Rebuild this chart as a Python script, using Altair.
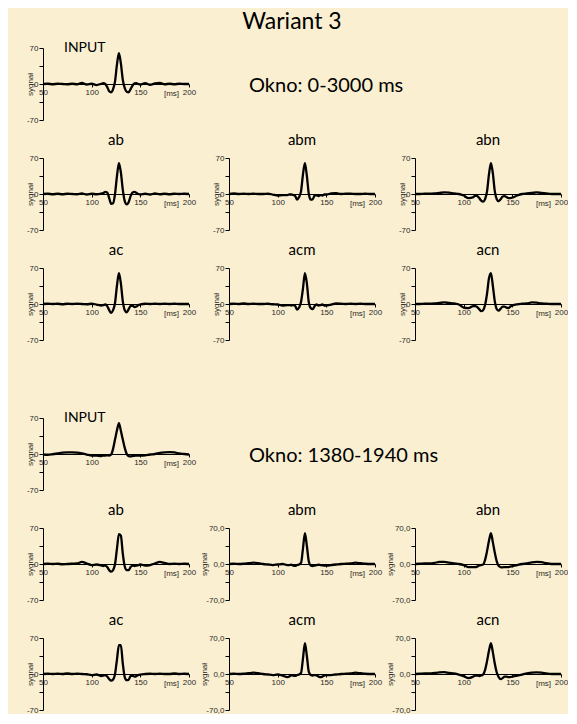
import altair as alt
import pandas as pd

# ---------------- data ----------------
t_ms = [50, 55, 60, 65, 70, 75, 80, 85, 90, 95, 100, 105, 110,
        112, 114, 116, 118, 120, 122, 124, 126, 128, 130, 132, 134, 136, 138, 140, 142, 144, 146, 148,
        150, 155, 160, 165, 170, 175, 180, 185, 190, 195, 200]

# Okno: 0-3000 ms
in_full = [0, 0.5, -0.5, 0.5, 0, -0.5, 0.5, -0.5, 2, -1, 0.5, -2, 0.5,
           1.5, 0, -6, -14, -16, -10, 5, 38, 60, 40, 8, -8, -15, -16, -10, -3, 1, 1.5, 0,
           -1, 1.5, -1.5, 1, 2, -0.5, 0.5, -0.5, 0.5, 0, 0]
ab_full = [0, 0.5, -0.5, 0.5, -0.5, 0.5, 0, -0.5, 1, -1, 0.5, -0.5, 1,
           2, 4, 3, -8, -19, -18, 0, 35, 60, 42, 8, -14, -20, -16, -4, 3, 4, 2, 0,
           -1, 0.5, -1, 1, -0.5, 0.5, -0.5, 0.5, 0, 0.5, 0]
abm_full = [0, 1, 0, 0.5, 0, 0.5, 0, 0, 0.5, -1, -3, -2, -2,
            -1, -1, -2, -4, -11, -6, 5, 38, 60, 35, 0, -11, -10, -3, -2, -4, -2, -3, -1,
            -1, 1, 1.5, 0, 0.5, 0.5, 0, 0, 0.5, 0, 0]
abn_full = [0, 0, 0.5, 0.5, 1, 2, 3, 2.5, 1, 0, -3, -8, -6,
            -3, -4, -8, -13, -15, -10, 5, 38, 60, 40, 5, -10, -14, -10, -5, -4, -6, -8, -8,
            -7, -3, 0, 1, 2, 3, 2, 1, 0, 0, 0]
ac_full = [0, 0.5, 0, 0.5, -0.5, 0.5, 0, 0.5, 0, -0.5, 0.5, -1, -3,
           -2, -1, -4, -12, -17, -12, 2, 36, 60, 40, 5, -12, -16, -10, -4, -3, -6, -5, -2,
           -1, 0.5, 0, 0.5, 0, 0.5, 0, 0.5, 0, 0, 0]
acm_full = [0, 0.5, 0, 1, 0, 0.5, 0, 0, 0.5, -0.5, -1, -3, -2,
            -2, -3, -2, -4, -11, -7, 4, 30, 60, 40, 3, -8, -10, -4, -1, -3, -2, -1, -3,
            -3, -1, 1, 0.5, 0, 0.5, 0, 0.5, 0, 0, 0]
acn_full = [0, 0, 0.5, 0.5, 1, 2, 3, 2, 1, -1, -7, -8, -4,
            -4, -6, -10, -14, -12, -2, 20, 50, 60, 35, 5, -10, -13, -9, -5, -5, -7, -8, -5,
            -3, -0.5, 0.5, 1, 3, 2.5, 1, 0.5, 0, 0, 0]

# Okno: 1380-1940 ms
in_win = [-1, -1.5, -0.5, 1, 2.5, 3, 3, 2.5, 1, -1, -3, -3, -4,
          -3, -3, -2.5, -3, -1, 10, 28, 46, 60, 45, 28, 12, 0, -4, -4.5, -4, -3.5, -3, -3,
          -3, -2.5, -1, 0, 2, 3, 3.5, 3, 1, 0, -1]
ab_win = [0, 0.5, 0, 0.5, -0.5, 0, 0.5, 1, 4, 1, -2, -1, -3,
          -4, -3, -6, -12, -15, -12, 0, 30, 58, 55, 20, -5, -12, -12, -6, -3, -4, -3, -2,
          -1, -3, -2, 1, 4, 2, 0, 0.5, 0, 0.5, 0]
abm_win = [0, 0.5, 0, 0.5, 1.5, 2.5, 1.5, 0, -1, -2, -1, 0, -2,
           -2, -1.5, -3, -3.5, -2, -1, 2, 30, 60, 35, 5, -3, -4, -3, -2, -1.5, -2, -2.5, -3,
           -3, -2, -1, 0, 0.5, 1, 2.5, 1.5, 0.5, 0, 0]
abn_win = [0, 0.5, 1, 1, 2, 4, 4, 2.5, 1, 0, -2, -6, -6,
           -6, -5, -3, -2, -1, 8, 25, 45, 60, 42, 22, 5, -4, -6, -6.5, -6, -6, -6, -5,
           -4, -2, 0, 1, 3, 4, 3.5, 1.5, 0, 0, 0]
ac_win = [0, 0.5, 0, 0.5, 0, 1, 0, 0.5, 0, -0.5, -2, -1, -4,
          -3, -2, -5, -10, -13, -11, 0, 28, 56, 56, 20, -6, -12, -11, -4, -3, -5, -4, -2,
          -1, 0, 0.5, 0, 0.5, 0, 0, 1, 0, 0.5, 0]
acm_win = [0, 0.5, 0, 0.5, 1.5, 2.5, 1.5, 0, -1, -2, -1, -3, -6,
           -5, -2, -3, -3.5, -2, -1, 2, 30, 60, 35, 4, -2, -3, -2, -3, -5, -6, -5, -3,
           -2, -2, -1, 0, 0.5, 1, 2.5, 1.5, 0.5, 0, 0]
acn_win = [0, 0.5, 1, 1, 2, 3, 3.5, 2, 1, -1, -4, -8, -5,
           -3, -3, -4, -3, -1, 8, 25, 45, 60, 42, 20, 3, -6, -10, -8, -5, -5, -6, -6,
           -5, -3, -1, 1, 2.5, 3, 2.5, 1, 0, 0, 0]

x_ticks = [50, 100, 150, 200]
y_ticks = [-70, -35, 0, 35, 70]
okno_labels = ["Okno: 0-3000 ms", "Okno: 1380-1940 ms"]
main_title = "Wariant 3"

# ---------------- styling ----------------
BG = "#FAEFD0"
W, H = 146, 72
TXT_FONT = "Lato"
AX_FONT = "Liberation Sans"

LBL_INT = "datum.value == 70 ? '70' : datum.value == 0 ? '0' : datum.value == -70 ? '-70' : ''"
LBL_DEC = "datum.value == 70 ? '70,0' : datum.value == 0 ? '0,0' : datum.value == -70 ? '-70,0' : ''"


def panel(values, title, decimal=False, is_input=False):
    df = pd.DataFrame({"t": t_ms, "v": values})
    if is_input:
        ttl = alt.TitleParams(text=title, fontSize=14, font=TXT_FONT, fontWeight="normal",
                              color="black", anchor="start", dx=21, offset=-22,
                              frame="group", baseline="alphabetic")
    else:
        ttl = alt.TitleParams(text=title, fontSize=15, font=TXT_FONT, fontWeight="normal",
                              color="black", anchor="middle", offset=-6,
                              frame="group", baseline="alphabetic")
    x = alt.X("t:Q",
              scale=alt.Scale(domain=[50, 200], nice=False, zero=False),
              axis=alt.Axis(values=x_ticks, offset=-36, title="[ms]", titleX=128, titleY=9,
                            titleAlign="center", titleBaseline="middle", titleFontSize=8,
                            titleFontWeight="normal", titleFont=AX_FONT, titleColor="#2a2a2a",
                            labelFontSize=8, labelFont=AX_FONT, labelColor="#2a2a2a",
                            tickSize=3, labelPadding=1, domainColor="black",
                            tickColor="black", grid=False, labelFlush=False,
                            labelOverlap=False))
    y = alt.Y("v:Q",
              scale=alt.Scale(domain=[-70, 70], nice=False),
              axis=alt.Axis(values=y_ticks, labelExpr=LBL_DEC if decimal else LBL_INT,
                            title="sygnał", titleX=-21 if decimal else -9, titleY=36,
                            titleAlign="center", titleBaseline="bottom", titleFontSize=8,
                            titleFontWeight="normal", titleFont=AX_FONT, titleColor="#2a2a2a",
                            labelFontSize=8, labelFont=AX_FONT, labelColor="#2a2a2a",
                            tickSize=4, labelPadding=1, domainColor="black",
                            tickColor="black", grid=False))
    return (alt.Chart(df, title=ttl)
            .mark_line(color="black", strokeWidth=2.3, interpolate="monotone")
            .encode(x=x, y=y)
            .properties(width=W, height=H))


def text_cell(label, h=H, size=20, x=20, y=None, align="left"):
    df = pd.DataFrame({"label": [label]})
    return (alt.Chart(df)
            .mark_text(align=align, baseline="middle", fontSize=size, font=TXT_FONT, color="black")
            .encode(text="label:N", x=alt.value(x), y=alt.value(h / 2 + 2 if y is None else y))
            .properties(width=W, height=h))


cells = [
    text_cell("", h=2, size=1), text_cell(main_title, h=2, size=23, x=63, y=14, align="center"),
    text_cell("", h=2, size=1),
    panel(in_full, "INPUT", is_input=True), text_cell(okno_labels[0]), text_cell("", size=1),
    panel(ab_full, "ab"), panel(abm_full, "abm"), panel(abn_full, "abn"),
    panel(ac_full, "ac"), panel(acm_full, "acm"), panel(acn_full, "acn"),
    text_cell("", h=2, size=1), text_cell("", h=2, size=1), text_cell("", h=2, size=1),
    panel(in_win, "INPUT", is_input=True), text_cell(okno_labels[1]), text_cell("", size=1),
    panel(ab_win, "ab"), panel(abm_win, "abm", decimal=True), panel(abn_win, "abn", decimal=True),
    panel(ac_win, "ac"), panel(acm_win, "acm", decimal=True), panel(acn_win, "acn", decimal=True),
]

chart = (alt.concat(*cells, columns=3, spacing={"row": 38, "column": 40}, bounds="flush")
         .properties(background=BG,
                     padding={"left": 18, "top": 0, "right": 0, "bottom": 0})
         .configure_view(stroke=None))

chart.save("out.html", embed_options={"renderer": "svg", "actions": False})
